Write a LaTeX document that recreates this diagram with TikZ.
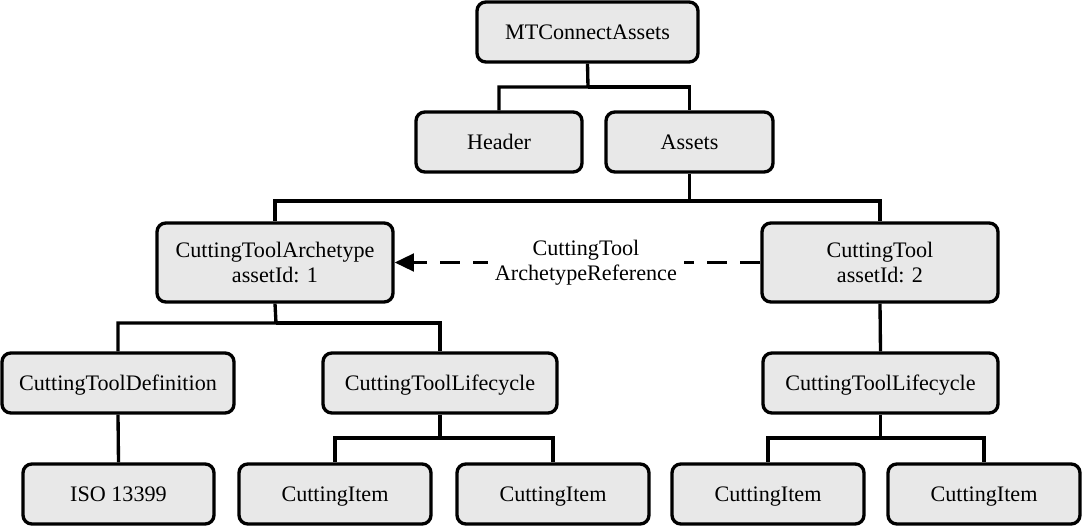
\documentclass[tikz,border=0pt]{standalone}
\usepackage{fontspec}
\setmainfont{Liberation Serif}
\usetikzlibrary{arrows.meta}
\definecolor{boxfill}{HTML}{E8E8E8}
\tikzset{
  asset/.style={draw, line width=1.9pt, rounded corners=5pt, fill=boxfill,
    inner sep=0pt, align=center, minimum height=1.2cm,
    font=\fontsize{12.6}{14.5}\selectfont},
  oneline/.style={text height=10pt, text depth=2pt},
  link/.style={line width=1.9pt},
  refarrow/.style={line width=1.9pt, dash pattern=on 11.5pt off 7.5pt,
    -{Triangle[length=11pt,width=10pt]}}
}
\begin{document}
\begin{tikzpicture}[x=0.02cm, y=-0.02cm]
    \useasboundingbox (0,0) rectangle (1082,528);

    % top levels
    \node[asset, oneline, minimum width=4.42cm] (mt) at (587.5,32) {MTConnectAssets};
    \node[asset, oneline, minimum width=3.32cm] (hdr) at (499,142) {Header};
    \node[asset, oneline, minimum width=3.34cm] (assets) at (689.5,142) {Assets};
    \node[asset, minimum width=4.72cm, minimum height=1.58cm] (cta) at (275,262.5)
      {CuttingToolArchetype\\assetId: 1};
    \node[asset, minimum width=4.72cm, minimum height=1.58cm] (ct) at (880,262.5)
      {CuttingTool\\assetId: 2};

    % third level
    \node[asset, oneline, minimum width=4.64cm] (def) at (118,383) {CuttingToolDefinition};
    \node[asset, oneline, minimum width=4.68cm] (lcl) at (440,383) {CuttingToolLifecycle};
    \node[asset, oneline, minimum width=4.70cm] (lcr) at (880.5,383) {CuttingToolLifecycle};

    % leaves
    \node[asset, oneline, minimum width=3.82cm] (iso) at (118.5,494) {ISO 13399};
    \foreach \n/\x in {ci1/335,ci2/553,ci3/768,ci4/984} {
        \node[asset, oneline, minimum width=3.84cm] (\n) at (\x,494) {CuttingItem};
      }

    % junctions
    \coordinate (j1) at (588,87);
    \coordinate (j2) at (689.5,201);
    \coordinate (j3) at (276,323);
    \coordinate (j4) at (440,438);
    \coordinate (j5) at (880.5,438);

    \draw[link] (mt.south) -- (j1) -| (hdr.north);
    \draw[link] (j1) -| (assets.north);
    \draw[link] (assets.south) -- (j2) -| (cta.north);
    \draw[link] (j2) -| (ct.north);
    \draw[link] (cta.south) -- (j3) -| (def.north);
    \draw[link] (j3) -| (lcl.north);
    \draw[link] (ct.south) -- (lcr.north);
    \draw[link] (def.south) -- (iso.north);
    \draw[link] (lcl.south) -- (j4) -| (ci1.north);
    \draw[link] (j4) -| (ci2.north);
    \draw[link] (lcr.south) -- (j5) -| (ci3.north);
    \draw[link] (j5) -| (ci4.north);

    % archetype reference
    \draw[refarrow] (ct.west) -- (cta.east)
      node[pos=0.477, fill=white, inner xsep=4pt, inner ysep=1pt, align=center,
        font=\fontsize{12.6}{14.5}\selectfont] (ref) {CuttingTool\\ArchetypeReference};
  \end{tikzpicture}
\end{document}
